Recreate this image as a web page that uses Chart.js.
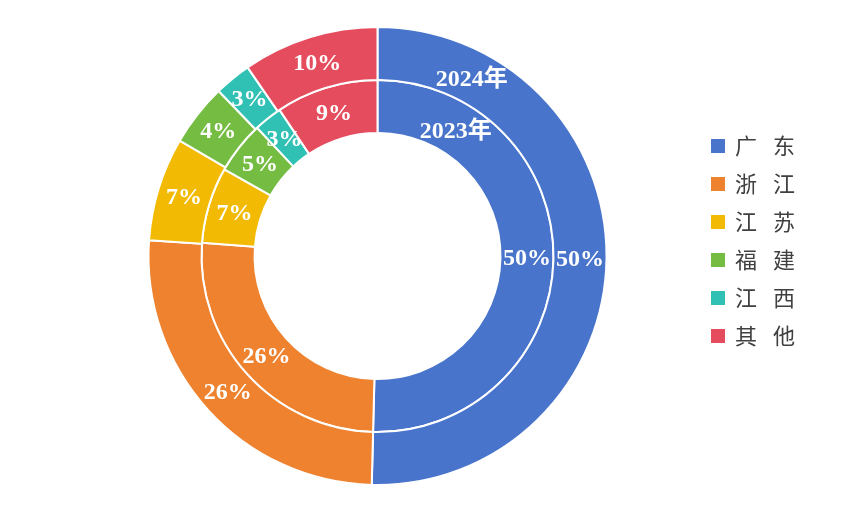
<!DOCTYPE html>
<html><head><meta charset="utf-8">
<script src="https://cdn.jsdelivr.net/npm/chart.js@4.4.1/dist/chart.umd.min.js"></script>
<style>html,body{margin:0;padding:0;background:#fff;}canvas{display:block;}</style>
</head><body>
<canvas id="c" width="861" height="507"></canvas>
<script>
const categories = ['广东','浙江','江苏','福建','江西','其他'];
const seriesNames = ['2024年','2023年'];
const values2024 = [50.4, 25.7, 7.3, 4.4, 2.6, 9.6];
const values2023 = [50.4, 25.8, 7.0, 4.8, 2.6, 9.4];
const colors = ['#4874CB','#EE822F','#F2BA02','#75BD42','#30C0B4','#E54C5E'];

const labelFont = 'bold 24px "Liberation Serif", "Noto Sans CJK SC", serif';
// angle (deg from top, clockwise) where each series name is written inside its ring
const seriesNameAngles = [28, 32];

const labelsPlugin = {
  id: 'ringLabels',
  afterDatasetsDraw(chart) {
    const ctx = chart.ctx;
    ctx.save();
    ctx.fillStyle = '#ffffff';
    ctx.font = labelFont;
    ctx.textAlign = 'center';
    ctx.textBaseline = 'middle';
    chart.data.datasets.forEach((ds, di) => {
      const meta = chart.getDatasetMeta(di);
      const total = ds.data.reduce((a, b) => a + b, 0);
      meta.data.forEach((arc, i) => {
        const p = arc.getProps(['x','y','startAngle','endAngle','innerRadius','outerRadius'], true);
        const a = (p.startAngle + p.endAngle) / 2;
        const r = (p.innerRadius + p.outerRadius) / 2;
        const txt = Math.round(ds.data[i] / total * 100) + '%';
        ctx.fillText(txt, p.x + Math.cos(a) * r, p.y + Math.sin(a) * r + 1);
      });
      const arc0 = meta.data[0].getProps(['x','y','innerRadius','outerRadius'], true);
      const a = (seriesNameAngles[di] - 90) * Math.PI / 180;
      const r = (arc0.innerRadius + arc0.outerRadius) / 2 - 2;
      ctx.fillText(ds.label, arc0.x + Math.cos(a) * r, arc0.y + Math.sin(a) * r + 1);
    });
    ctx.restore();
  }
};

const legendPlugin = {
  id: 'sideLegend',
  afterDraw(chart) {
    const ctx = chart.ctx;
    ctx.save();
    ctx.font = '22px "Noto Sans CJK SC", sans-serif';
    ctx.textBaseline = 'middle';
    ctx.textAlign = 'left';
    categories.forEach((name, i) => {
      const cy = 146 + i * 38;
      ctx.fillStyle = colors[i];
      ctx.fillRect(711, cy - 7, 14, 14);
      ctx.fillStyle = '#404040';
      [...name].forEach((ch, k) => ctx.fillText(ch, 735 + k * 38, cy));
    });
    ctx.restore();
  }
};

new Chart(document.getElementById('c'), {
  type: 'doughnut',
  data: {
    labels: categories,
    datasets: [
      { label: seriesNames[0], data: values2024, backgroundColor: colors, borderColor: '#ffffff', borderWidth: 2 },
      { label: seriesNames[1], data: values2023, backgroundColor: colors, borderColor: '#ffffff', borderWidth: 2 }
    ]
  },
  options: {
    responsive: false,
    animation: false,
    radius: 229,
    cutout: '53.7%',
    layout: { padding: { left: 147.5, right: 253.5, top: 26, bottom: 21 } },
    plugins: { legend: { display: false }, tooltip: { enabled: false } }
  },
  plugins: [labelsPlugin, legendPlugin]
});
</script>
</body></html>
